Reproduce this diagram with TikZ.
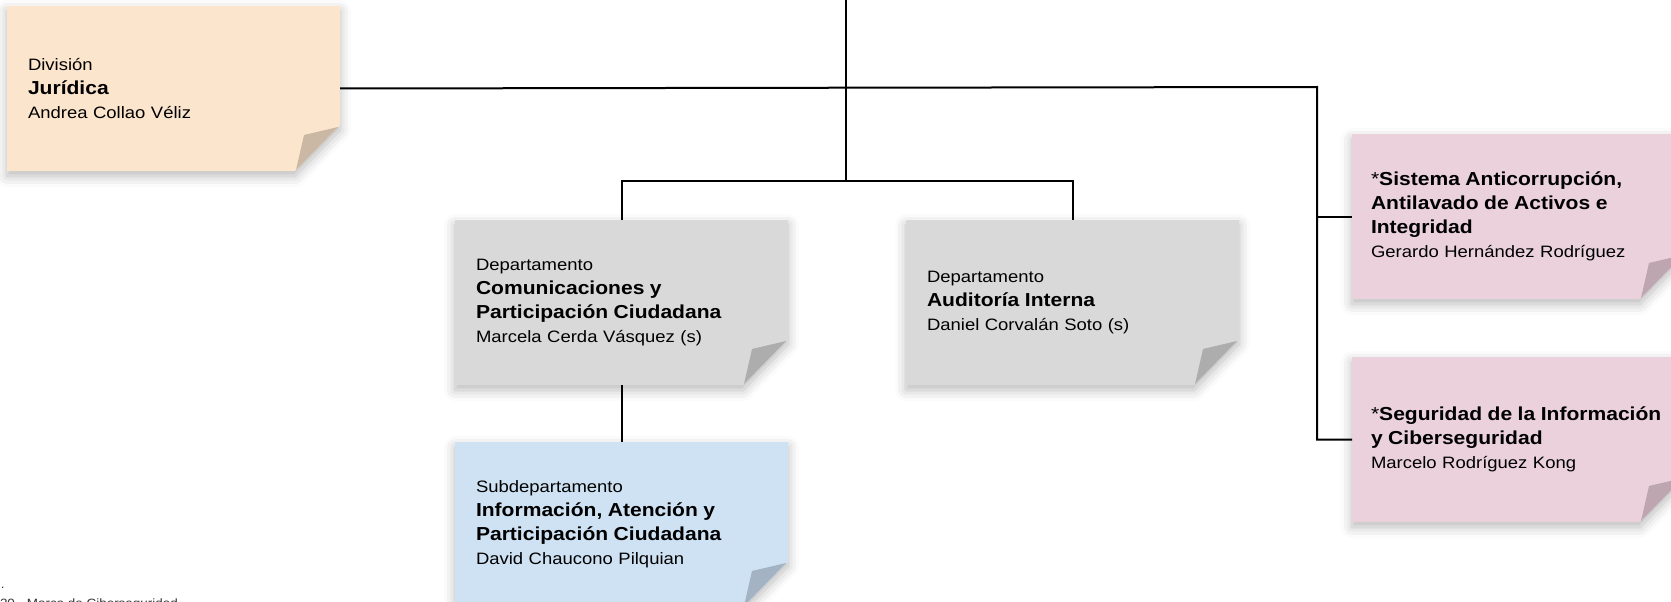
\documentclass[tikz,border=0pt]{standalone}
\usepackage{fontspec}
\setmainfont{Liberation Sans}[FakeStretch=1.12]
\usetikzlibrary{backgrounds,shadows.blur}

\definecolor{durazno}{HTML}{FCE5CD}
\definecolor{duraznofold}{HTML}{CBB8A4}
\definecolor{gris}{HTML}{D9D9D9}
\definecolor{grisfold}{HTML}{ADADAD}
\definecolor{celeste}{HTML}{CFE2F3}
\definecolor{celestefold}{HTML}{A3B3C4}
\definecolor{rosa}{HTML}{EAD1DC}
\definecolor{rosafold}{HTML}{BEA6B1}

\newcommand{\tipo}{\fontsize{16.5}{24}\selectfont\mdseries}
\newcommand{\titulo}{\fontsize{18.8}{24}\selectfont\bfseries}
\newcommand{\nombre}{\fontsize{16.5}{24}\selectfont\mdseries}

% hoja con la esquina doblada, detras del nodo
\newcommand{\hoja}[3]{%
  \begin{scope}[on background layer]
    \fill[#2, blur shadow={shadow xshift=0pt, shadow yshift=-5pt, shadow blur radius=11pt, shadow opacity=28}]
      (#1.north west) -- (#1.north east) -- ([yshift=46pt]#1.south east)
      -- ([xshift=-45pt]#1.south east) -- (#1.south west) -- cycle;
    \fill[#3] ([xshift=-2pt,yshift=44pt]#1.south east) -- ([xshift=-36pt,yshift=36pt]#1.south east)
      -- ([xshift=-44pt,yshift=1pt]#1.south east) -- cycle;
  \end{scope}}

\begin{document}
\begin{tikzpicture}[x=1pt, y=-1pt, line width=2pt,
  note/.style = {anchor=north west, minimum width=331, minimum height=163, inner xsep=20, inner ysep=0, text width=291, align=left, font=\fontsize{16.5}{24}\selectfont},
  pinknote/.style = {note, inner xsep=18, text width=295}]
\useasboundingbox (0,0) rectangle (1671,602);

\node[note] (jur) at (7,6) {\tipo División\\ \titulo Jurídica\\ \nombre Andrea Collao Véliz};
\node[note] (com) at (455,220) {\tipo Departamento\\ \titulo Comunicaciones y\\ Participación Ciudadana\\ \nombre Marcela Cerda Vásquez (s)};
\node[note] (aud) at (906,220) {\tipo Departamento\\ \titulo Auditoría Interna\\ \nombre Daniel Corvalán Soto (s)};
\node[note] (inf) at (455,442) {\tipo Subdepartamento\\ \titulo Información, Atención y\\ Participación Ciudadana\\ \nombre David Chaucono Pilquian};
\node[pinknote] (sac) at (1352,134) {\titulo{\mdseries *}Sistema Anticorrupción,\\ Antilavado de Activos e\\ Integridad\\ \nombre Gerardo Hernández Rodríguez};
\node[pinknote] (sci) at (1352,357) {\titulo{\mdseries *}Seguridad de la Información\\ y Ciberseguridad\\ \nombre Marcelo Rodríguez Kong};

\hoja{jur}{durazno}{duraznofold}
\hoja{com}{gris}{grisfold}
\hoja{aud}{gris}{grisfold}
\hoja{inf}{celeste}{celestefold}
\hoja{sac}{rosa}{rosafold}
\hoja{sci}{rosa}{rosafold}

\coordinate (top) at (846,-2);
\coordinate (mid) at (846,181);
\coordinate (rt) at (1317,87);

\draw (top) -- (mid);
\draw (com.north) |- (mid) -| (aud.north);
\draw (com.south) -- (inf.north);
\draw (jur.east) -- (rt) |- (sci.west);
\draw (rt |- sac.west) -- (sac.west);

\node[anchor=base west, inner sep=0, font=\fontsize{12}{14}\selectfont, black!80] (dot) at (0,588) {.};
\node[anchor=base west, inner sep=0, font=\fontsize{12}{14}\selectfont, black!80] (pie) at (-1,607) {20 - Marco de Ciberseguridad};
\end{tikzpicture}
\end{document}
